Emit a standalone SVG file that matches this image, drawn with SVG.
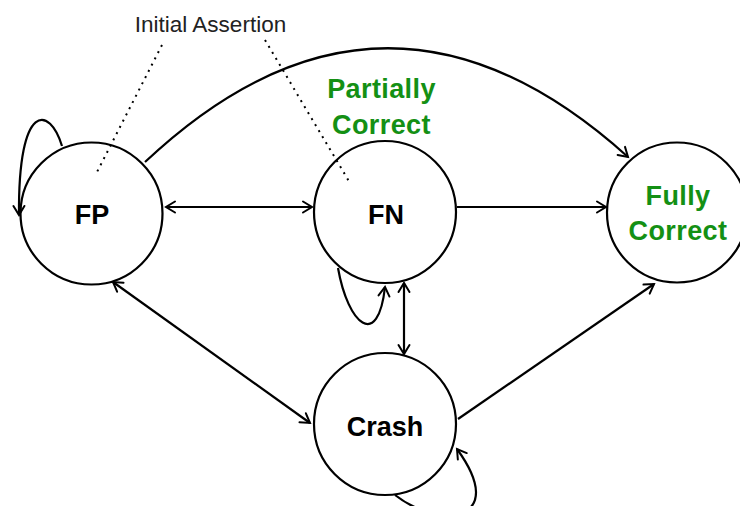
<svg xmlns="http://www.w3.org/2000/svg" width="740" height="506" viewBox="0 0 740 506">
<defs>
<marker id="arr" markerUnits="userSpaceOnUse" markerWidth="20" markerHeight="20" refX="0" refY="0" viewBox="-12 -10 16 20" orient="auto-start-reverse" overflow="visible">
<path d="M -9 -5.5 L 0 0 L -9 5.5" fill="none" stroke="#000" stroke-width="2" stroke-linecap="round" stroke-linejoin="miter"/>
</marker>
<style>
.node{fill:#fff;stroke:#000;stroke-width:2.2}
.lbl{font-family:"Liberation Sans",Arial,sans-serif;font-weight:bold;font-size:27px;text-anchor:middle;fill:#000}
.green{fill:#149014;letter-spacing:0.4px}
.edge{fill:none;stroke:#000;stroke-width:2.2}
.dot{fill:none;stroke:#000;stroke-width:2;stroke-dasharray:2 5}
.note{font-family:"Liberation Sans",Arial,sans-serif;font-size:22.5px;text-anchor:middle;fill:#222}
</style>
</defs>
<rect width="740" height="506" fill="#fff"/>
<g id="FP">
<circle class="node" cx="91.5" cy="213.5" r="71"/>
<text class="lbl" x="92" y="224">FP</text>
</g>
<g id="FN">
<circle class="node" cx="385" cy="212" r="71"/>
<text class="lbl" x="386" y="224">FN</text>
</g>
<g id="FullyCorrect">
<circle class="node" cx="677" cy="212.5" r="70"/>
<text class="lbl green" x="678" y="205">Fully</text>
<text class="lbl green" x="678" y="240">Correct</text>
</g>
<g id="Crash">
<circle class="node" cx="385" cy="424" r="71"/>
<text class="lbl" x="385" y="436">Crash</text>
</g>
<g id="PartiallyCorrect">
<text class="lbl green" x="381.5" y="98">Partially</text>
<text class="lbl green" x="381.5" y="134">Correct</text>
</g>
<g id="InitialAssertion">
<text class="note" x="210.5" y="32">Initial Assertion</text>
</g>
<g id="connectors">
<path class="edge" d="M 62 146 C 50 106, 18 100, 19 215" marker-end="url(#arr)"/>
<path class="edge" d="M 145 162 Q 384 -63 628 157" marker-end="url(#arr)"/>
<path class="edge" d="M 166 207 L 312 207" marker-start="url(#arr)" marker-end="url(#arr)"/>
<path class="edge" d="M 457 207 L 606 207" marker-end="url(#arr)"/>
<path class="edge" d="M 338 268 C 348 325, 378 350, 385 287" marker-end="url(#arr)"/>
<path class="edge" d="M 404 283 L 404 354" marker-start="url(#arr)" marker-end="url(#arr)"/>
<path class="edge" d="M 113 282 L 310 423" marker-start="url(#arr)" marker-end="url(#arr)"/>
<path class="edge" d="M 458 419 L 654 284" marker-end="url(#arr)"/>
<path class="edge" d="M 395 495 C 440 530, 510 522, 457 449" marker-end="url(#arr)"/>
<path class="dot" d="M 162 45 L 97 172"/>
<path class="dot" d="M 265 40 L 350 183"/>
</g>
</svg>
